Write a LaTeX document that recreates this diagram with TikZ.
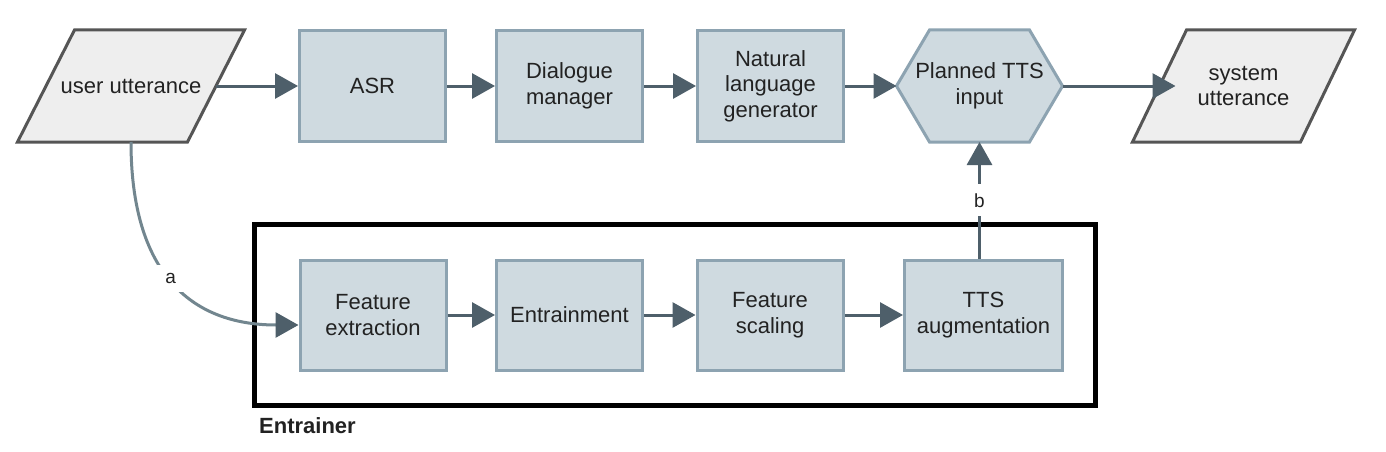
\documentclass[tikz,border=0pt]{standalone}
\usepackage{fontspec}
\setmainfont{Liberation Sans}
\usetikzlibrary{arrows.meta,calc}
\pgfdeclarelayer{bg}
\pgfsetlayers{bg,main}
\definecolor{boxfill}{HTML}{CFDAE0}
\definecolor{boxline}{HTML}{8DA3B1}
\definecolor{parafill}{HTML}{EEEEEE}
\definecolor{paraline}{HTML}{555555}
\definecolor{arrowcol}{HTML}{4E5F6A}
\definecolor{curvecol}{HTML}{72868F}
\definecolor{txt}{HTML}{222222}
\begin{document}
\begin{tikzpicture}[x=1pt,y=-1pt,
  font=\fontsize{22}{25.5}\selectfont, text=txt,
  proc/.style={draw=boxline, fill=boxfill, line width=3pt, minimum width=146pt,
    minimum height=110pt, align=center, inner sep=0pt},
  ghost/.style={minimum width=#1, minimum height=112pt, align=center, inner sep=0pt, outer sep=0pt},
  flow/.style={draw=arrowcol, line width=3pt, -{Triangle[length=23pt,width=25pt]}},
  lbl/.style={fill=white, font=\fontsize{19}{22}\selectfont, inner sep=3pt}
]
\useasboundingbox (0,0) rectangle (1386,452);

% top row
\node[ghost=170pt] (user) at (131,86) {user utterance};
\node[proc] (asr) at (372.5,86) {ASR};
\node[proc] (dm) at (569.5,86) {Dialogue\\manager};
\node[proc] (nlg) at (770.5,86) {Natural\\language\\generator};
\node[ghost=166pt] (hex) at (979.5,86) {Planned TTS\\input};
\node[ghost=168pt] (sys) at (1243.5,86) {system\\utterance};

% entrainer frame
\node[draw=black, line width=5pt, minimum width=841pt, minimum height=181pt,
  inner sep=0pt, outer sep=0pt] (frame) at (675,315) {};
\node[anchor=north west, font=\bfseries\fontsize{22}{25}\selectfont, inner sep=0pt]
  (elabel) at (259,417) {Entrainer};

% bottom row
\node[proc] (fe) at (373,315) {Feature\\extraction};
\node[proc] (en) at (569.5,315) {Entrainment};
\node[proc] (fs) at (770,315) {Feature\\scaling};
\node[proc, minimum width=158pt] (tts) at (983.5,315) {TTS\\augmentation};

% background shapes
\begin{pgfonlayer}{bg}
  \fill[white] (0,0) rectangle (1386,452);
  \draw[draw=paraline, fill=parafill, line width=3pt]
    ([xshift=28.5pt]user.north west) -- ([xshift=28.5pt]user.north east)
    -- ([xshift=-28.5pt]user.south east) -- ([xshift=-28.5pt]user.south west) -- cycle;
  \draw[draw=paraline, fill=parafill, line width=3pt]
    ([xshift=27pt]sys.north west) -- ([xshift=27pt]sys.north east)
    -- ([xshift=-27pt]sys.south east) -- ([xshift=-27pt]sys.south west) -- cycle;
  \draw[draw=boxline, fill=boxfill, line width=3pt]
    ([xshift=33pt]hex.north west) -- ([xshift=-33pt]hex.north east) -- (hex.east)
    -- ([xshift=-33pt]hex.south east) -- ([xshift=33pt]hex.south west) -- (hex.west) -- cycle;
\end{pgfonlayer}

% connectors
\draw[flow] (user.east) -- (asr.west);
\draw[flow] (asr.east) -- (dm.west);
\draw[flow] (dm.east) -- (nlg.west);
\draw[flow] (nlg.east) -- (hex.west);
\draw[flow] (hex.east) -- ([xshift=16pt]sys.west);
\draw[flow] (fe.east) -- (en.west);
\draw[flow] (en.east) -- (fs.west);
\draw[flow] (fs.east) -- (tts.west);
\draw[flow] (tts.north -| hex.south) -- node[lbl, inner ysep=9pt] {b} (hex.south);
\draw[draw=curvecol, line width=3pt, -{Triangle[length=23pt,width=25pt,color=arrowcol]}]
  (user.south) .. controls (131,272) and (190,325) .. node[lbl, pos=0.48, inner sep=8pt] {a}
  ([yshift=-10pt]fe.west);
\end{tikzpicture}
\end{document}
